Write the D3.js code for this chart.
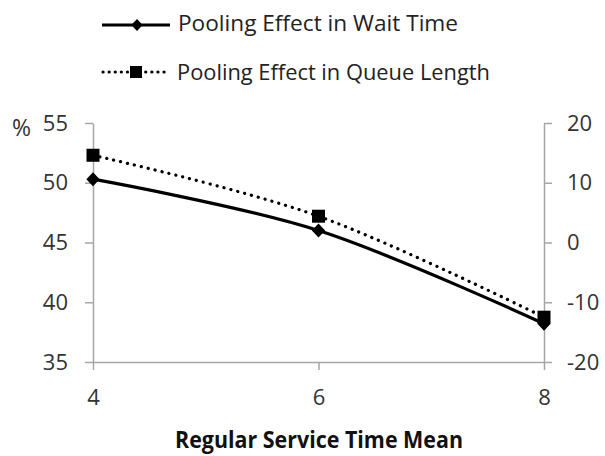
<!DOCTYPE html>
<html><head><meta charset="utf-8">
<script src="https://cdn.jsdelivr.net/npm/d3@7"></script>
<style>body{margin:0;background:#fff}svg{display:block}</style>
</head><body>
<script>
const xValues = [4, 6, 8];
const waitTime = [50.3, 46.0, 38.2];      // left axis (%)
const queueLength = [14.6, 4.4, -12.5];   // right axis
const leftTicks = [35, 40, 45, 50, 55];
const rightTicks = [-20, -10, 0, 10, 20];
const seriesNames = ["Pooling Effect in Wait Time", "Pooling Effect in Queue Length"];
const xTitle = "Regular Service Time Mean";

const W = 605, H = 456;
const svg = d3.select("body").append("svg").attr("width", W).attr("height", H);
const font = "'Open Sans', sans-serif";

const x = d3.scaleLinear().domain([4, 8]).range([93, 544]);
const yL = d3.scaleLinear().domain([35, 55]).range([362, 123]);
const yR = d3.scaleLinear().domain([-20, 20]).range([362, 123]);
const axisColor = "#a6a6a6", textColor = "#333";
const fmt = d => String(d);

function styleAxis(g) {
  g.selectAll("path,line").attr("stroke", axisColor).attr("stroke-width", 1.5);
  g.selectAll("text").attr("fill", textColor).attr("font-family", font).attr("font-size", 22);
}
svg.append("g").attr("transform", "translate(93,0)")
  .call(d3.axisLeft(yL).tickValues(leftTicks).tickFormat(fmt).tickSize(8).tickSizeOuter(0).tickPadding(17))
  .call(styleAxis);
svg.append("g").attr("transform", "translate(544,0)")
  .call(d3.axisRight(yR).tickValues(rightTicks).tickFormat(fmt).tickSize(8).tickSizeOuter(0).tickPadding(15))
  .call(styleAxis);
svg.append("g").attr("transform", "translate(0,362)")
  .call(d3.axisBottom(x).tickValues(xValues).tickFormat(fmt).tickSize(8).tickSizeOuter(0).tickPadding(19))
  .call(styleAxis);

svg.append("text").attr("x", 12).attr("y", 136).text("%")
  .attr("font-family", font).attr("font-size", 23).attr("fill", textColor);

const curve = d3.curveCardinal.tension(0);
const lineL = d3.line().x((d, i) => x(xValues[i])).y(d => yL(d)).curve(curve);
const lineR = d3.line().x((d, i) => x(xValues[i])).y(d => yR(d)).curve(curve);

svg.append("path").attr("d", lineR(queueLength)).attr("fill", "none").attr("stroke", "#000")
  .attr("stroke-width", 3.2).attr("stroke-dasharray", "0.1,7").attr("stroke-linecap", "round");
svg.append("path").attr("d", lineL(waitTime)).attr("fill", "none").attr("stroke", "#000")
  .attr("stroke-width", 3.2);

const diamond = s => `M0,${-s}L${s*0.95},0L0,${s}L${-s*0.95},0Z`;
svg.selectAll(".dm").data(waitTime).join("path")
  .attr("transform", (d, i) => `translate(${x(xValues[i])},${yL(d)})`)
  .attr("d", diamond(7)).attr("fill", "#000");
svg.selectAll(".sq").data(queueLength).join("rect")
  .attr("x", (d, i) => x(xValues[i]) - 6.5).attr("y", d => yR(d) - 6.5)
  .attr("width", 13).attr("height", 13).attr("fill", "#000");

// legend
svg.append("line").attr("x1", 102).attr("x2", 170).attr("y1", 25).attr("y2", 25)
  .attr("stroke", "#000").attr("stroke-width", 3.2);
svg.append("path").attr("transform", "translate(137,25)").attr("d", diamond(6)).attr("fill", "#000");
svg.append("line").attr("x1", 103).attr("x2", 168).attr("y1", 72).attr("y2", 72)
  .attr("stroke", "#000").attr("stroke-width", 3.2).attr("stroke-dasharray", "0.1,6").attr("stroke-linecap", "round");
svg.append("rect").attr("x", 130).attr("y", 66).attr("width", 12).attr("height", 12).attr("fill", "#000");

svg.append("text").attr("x", 178).attr("y", 31).text(seriesNames[0])
  .attr("font-family", font).attr("font-size", 21).attr("fill", "#222")
  .attr("textLength", 280).attr("lengthAdjust", "spacingAndGlyphs");
svg.append("text").attr("x", 177).attr("y", 80).text(seriesNames[1])
  .attr("font-family", font).attr("font-size", 21).attr("fill", "#222")
  .attr("textLength", 313).attr("lengthAdjust", "spacingAndGlyphs");

svg.append("text").attr("x", 175).attr("y", 448).text(xTitle)
  .attr("font-family", font).attr("font-size", 23).attr("font-weight", "bold").attr("fill", "#111")
  .attr("textLength", 288).attr("lengthAdjust", "spacingAndGlyphs");
</script>
</body></html>
